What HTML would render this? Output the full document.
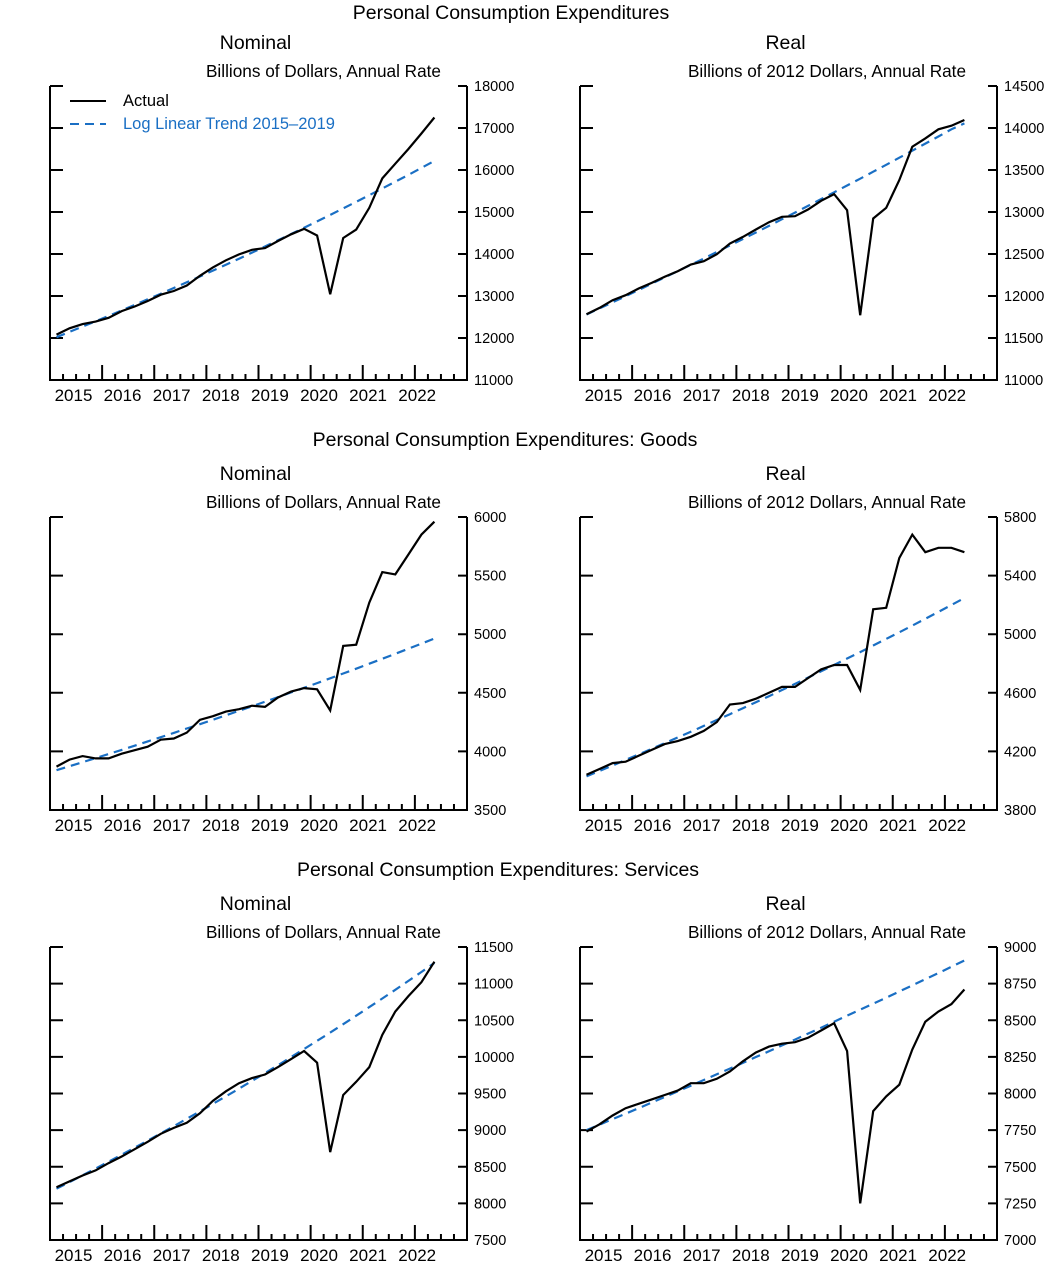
<!DOCTYPE html>
<html><head><meta charset="utf-8">
<style>
html,body{margin:0;padding:0;background:#fff;}
svg{display:block;font-family:"Liberation Sans","DejaVu Sans",sans-serif;}
</style></head>
<body>
<svg id="chart" width="1044" height="1267" viewBox="0 0 1044 1267" xmlns="http://www.w3.org/2000/svg">
<text x="511" y="19" font-size="19.5" text-anchor="middle">Personal Consumption Expenditures</text>
<text x="505" y="446" font-size="19.5" text-anchor="middle">Personal Consumption Expenditures: Goods</text>
<text x="498" y="876" font-size="19.5" text-anchor="middle">Personal Consumption Expenditures: Services</text>
</svg>
<script>
const years = ["2015","2016","2017","2018","2019","2020","2021","2022"];
const nomPceActual = [12080,12230,12330,12390,12480,12640,12750,12880,13030,13120,13250,13480,13680,13850,13990,14100,14140,14310,14470,14600,14440,13040,14380,14580,15100,15800,16150,16500,16870,17250];
const nomPceTrend = [12020,12145,12271,12398,12527,12657,12788,12921,13055,13190,13327,13465,13605,13746,13889,14033,14179,14326,14475,14625,14777,14930,15085,15242,15400,15560,15721,15884,16049,16216];
const realPceActual = [11783,11858,11950,12009,12089,12156,12228,12295,12375,12414,12498,12625,12704,12792,12879,12943,12950,13030,13133,13213,13022,11771,12923,13050,13380,13777,13876,13984,14027,14095];
const realPceTrend = [11780,11852,11925,11998,12072,12146,12221,12296,12371,12447,12524,12601,12678,12756,12835,12914,12993,13073,13153,13234,13315,13397,13480,13562,13646,13730,13814,13899,13985,14055];
const nomGoodsActual = [3870,3930,3960,3940,3940,3980,4010,4040,4100,4110,4160,4270,4300,4340,4360,4390,4380,4460,4510,4540,4530,4350,4900,4910,5270,5530,5510,5680,5850,5960];
const nomGoodsTrend = [3840,3874,3908,3943,3978,4013,4049,4085,4121,4158,4195,4232,4270,4308,4346,4385,4424,4463,4503,4543,4583,4624,4665,4706,4748,4790,4833,4876,4919,4963];
const realGoodsActual = [4040,4080,4120,4130,4170,4210,4250,4270,4300,4340,4400,4520,4530,4560,4600,4640,4640,4700,4760,4790,4790,4620,5170,5180,5520,5680,5560,5590,5590,5560];
const realGoodsTrend = [4030,4067,4104,4142,4179,4218,4256,4295,4334,4374,4414,4454,4495,4536,4577,4619,4661,4704,4747,4790,4834,4878,4923,4968,5013,5059,5105,5152,5199,5247];
const nomServActual = [8220,8300,8380,8450,8550,8640,8740,8840,8950,9030,9100,9230,9400,9530,9640,9710,9760,9860,9970,10080,9920,8700,9480,9660,9860,10300,10620,10830,11020,11300];
const nomServTrend = [8200,8291,8383,8475,8569,8664,8760,8857,8955,9054,9154,9256,9358,9462,9566,9672,9779,9887,9997,10107,10219,10332,10446,10562,10679,10797,10916,11037,11159,11283];
const realServActual = [7740,7790,7850,7900,7930,7960,7990,8020,8070,8070,8100,8150,8220,8280,8320,8340,8350,8380,8430,8480,8290,7250,7880,7980,8060,8300,8490,8560,8610,8710];
const realServTrend = [7750,7787,7825,7862,7900,7938,7976,8015,8053,8092,8131,8170,8209,8249,8288,8328,8368,8409,8449,8490,8531,8572,8613,8654,8696,8738,8780,8822,8865,8908];
const ticksA = [11000,12000,13000,14000,15000,16000,17000,18000];
const ticksB = [11000,11500,12000,12500,13000,13500,14000,14500];
const ticksC = [3500,4000,4500,5000,5500,6000];
const ticksD = [3800,4200,4600,5000,5400,5800];
const ticksE = [7500,8000,8500,9000,9500,10000,10500,11000,11500];
const ticksF = [7000,7250,7500,7750,8000,8250,8500,8750,9000];

const NS="http://www.w3.org/2000/svg";
const svg=document.getElementById('chart');
const BLUE="#1a6fc4";
function mk(tag,attrs,parent){const e=document.createElementNS(NS,tag);for(const k in attrs)e.setAttribute(k,attrs[k]);(parent||svg).appendChild(e);return e;}

function panel(name,x0,x1,y0,y1,ticks,actual,trend,label,sub,subEnd,legend){
  const g=mk('g',{});
  
  
  const yMin=ticks[0],yMax=ticks[ticks.length-1];
  const X=t=>x0+(t-2015)/8*(x1-x0);
  const Y=v=>y1-(v-yMin)/(yMax-yMin)*(y1-y0);
  const lbl=mk('text',{x:(x0+x1)/2-3,y:y0-37,'font-size':19.5,'text-anchor':'middle'},g);
  lbl.textContent=label;
  
  
  const st=mk('text',{x:subEnd,y:y0-9,'font-size':17.2,'text-anchor':'end'},g);
  st.textContent=sub;
  
  
  const ax=mk('path',{d:`M${x0},${y0}V${y1}H${x1}V${y0}`,fill:'none',stroke:'#000','stroke-width':2},g);
  
  
  ticks.forEach(v=>{
    const y=Y(v);
    const t=mk('path',{d:`M${x0},${y}h13M${x1},${y}h-9`,stroke:'#000','stroke-width':2},g);
    
    
    const tl=mk('text',{x:x1+7,y:y+5,'font-size':14.5},g);
    tl.textContent=String(v);
    
    
  });
  for(let q=1;q<32;q++){
    const x=X(2015+q/4);
    const h=(q%4===0)?15:6;
    const t=mk('path',{d:`M${x},${y1}v-${h}`,stroke:'#000','stroke-width':2},g);
    
    
  }
  years.forEach((yr,i)=>{
    const t=mk('text',{x:x0+23.5+49.1*i,y:y1+21,'font-size':17,'text-anchor':'middle'},g);
    t.textContent=yr;
    
    
  });
  const pts=a=>a.map((v,i)=>`${X(2015+(i+0.5)/4).toFixed(1)},${Y(v).toFixed(1)}`).join(' ');
  const tr=mk('polyline',{points:pts(trend),fill:'none',stroke:BLUE,'stroke-width':2.2,'stroke-dasharray':'9,6'},g);
  
  
  const ac=mk('polyline',{points:pts(actual),fill:'none',stroke:'#000','stroke-width':2.2,'stroke-linejoin':'miter'},g);
  
  
  if(legend){
    const l1=mk('path',{d:`M70,${y0+15}h36`,stroke:'#000','stroke-width':2},g);
    
    
    const t1=mk('text',{x:123,y:y0+20,'font-size':16.5},g);
    t1.textContent='Actual';
    
    
    const l2=mk('path',{d:`M70,${y0+38}h36`,stroke:BLUE,'stroke-width':2,'stroke-dasharray':'9,6'},g);
    
    
    const t2=mk('text',{x:123,y:y0+43,'font-size':16.5,fill:BLUE},g);
    t2.textContent='Log Linear Trend 2015\u20132019';
    
    
  }
}
const SUBN="Billions of Dollars, Annual Rate", SUBR="Billions of 2012 Dollars, Annual Rate";
panel('pce-nominal-panel',50,467,86,380,ticksA,nomPceActual,nomPceTrend,'Nominal',SUBN,441,true);
panel('pce-real-panel',580,997,86,380,ticksB,realPceActual,realPceTrend,'Real',SUBR,966,false);
panel('goods-nominal-panel',50,467,517,810,ticksC,nomGoodsActual,nomGoodsTrend,'Nominal',SUBN,441,false);
panel('goods-real-panel',580,997,517,810,ticksD,realGoodsActual,realGoodsTrend,'Real',SUBR,966,false);
panel('services-nominal-panel',50,467,947,1240,ticksE,nomServActual,nomServTrend,'Nominal',SUBN,441,false);
panel('services-real-panel',580,997,947,1240,ticksF,realServActual,realServTrend,'Real',SUBR,966,false);
</script>
</body></html>
